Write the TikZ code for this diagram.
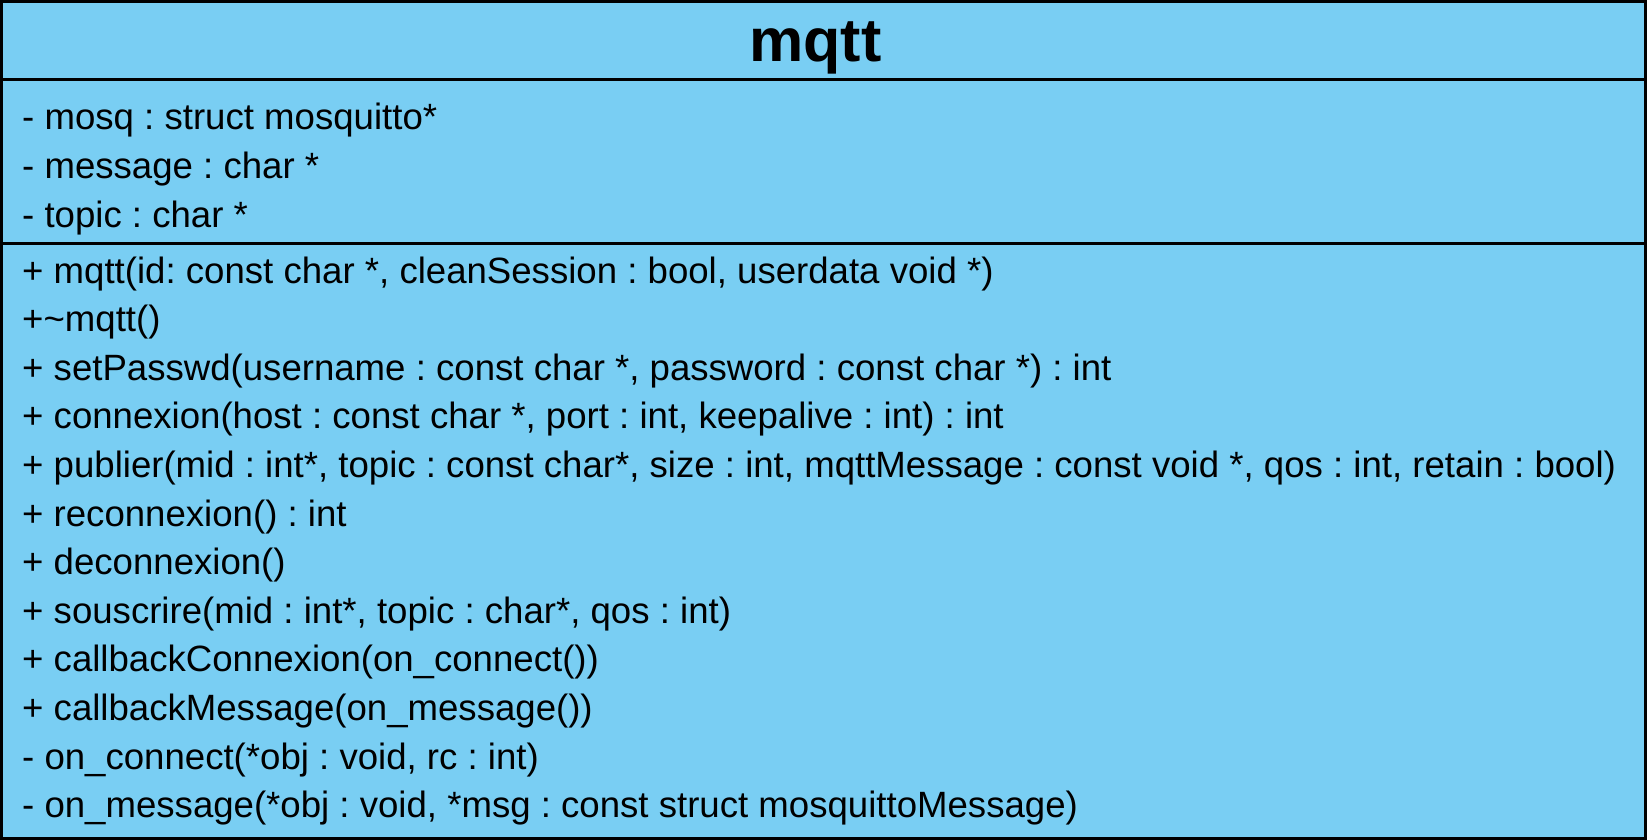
\documentclass[tikz,border=0pt]{standalone}
\usepackage{fontspec}
\setmainfont{Liberation Sans}
\frenchspacing
\definecolor{umlfill}{RGB}{121,206,243}
\begin{document}
\begin{tikzpicture}[x=1pt,y=-1pt,
  member/.style={anchor=base west,inner sep=0pt,font=\fontsize{36.6}{44}\selectfont},
  title/.style={anchor=base,inner sep=0pt,font=\fontsize{61}{70}\selectfont\bfseries},
  boxline/.style={line width=3pt,draw=black}]
\useasboundingbox (0,0) rectangle (1647,840);
\path[fill=umlfill,boxline] (1.5,1.5) rectangle (1645.5,838.5);
\draw[boxline] (1.5,79.5) -- (1645.5,79.5);
\draw[boxline] (1.5,243) -- (1645.5,243);
\node[title] (t) at (815.5,62) {mqtt};
\node[member] (a1) at (22,130) {- mosq : struct mosquitto*};
\node[member] (a2) at (22,178.5) {- message : char *};
\node[member] (a3) at (22,227) {- topic : char *};
\node[member] (m1) at (22,283) {+ mqtt(id: const char *, cleanSession : bool, userdata void *)};
\node[member] (m2) at (22,331.6) {+\char`\~mqtt()};
\node[member] (m3) at (22,380.2) {+ setPasswd(username : const char *, password : const char *) : int};
\node[member] (m4) at (22,428.8) {+ connexion(host : const char *, port : int, keepalive : int) : int};
\node[member] (m5) at (22,477.4) {+ publier(mid : int*, topic : const char*, size : int, mqttMessage : const void *, qos : int, retain : bool)};
\node[member] (m6) at (22,526) {+ reconnexion() : int};
\node[member] (m7) at (22,574.6) {+ deconnexion()};
\node[member] (m8) at (22,623.2) {+ souscrire(mid : int*, topic : char*, qos : int)};
\node[member] (m9) at (22,671.8) {+ callbackConnexion(on\_connect())};
\node[member] (m10) at (22,720.4) {+ callbackMessage(on\_message())};
\node[member] (m11) at (22,769) {- on\_connect(*obj : void, rc : int)};
\node[member] (m12) at (22,817.6) {- on\_message(*obj : void, *msg : const struct mosquittoMessage)};
\end{tikzpicture}
\end{document}
